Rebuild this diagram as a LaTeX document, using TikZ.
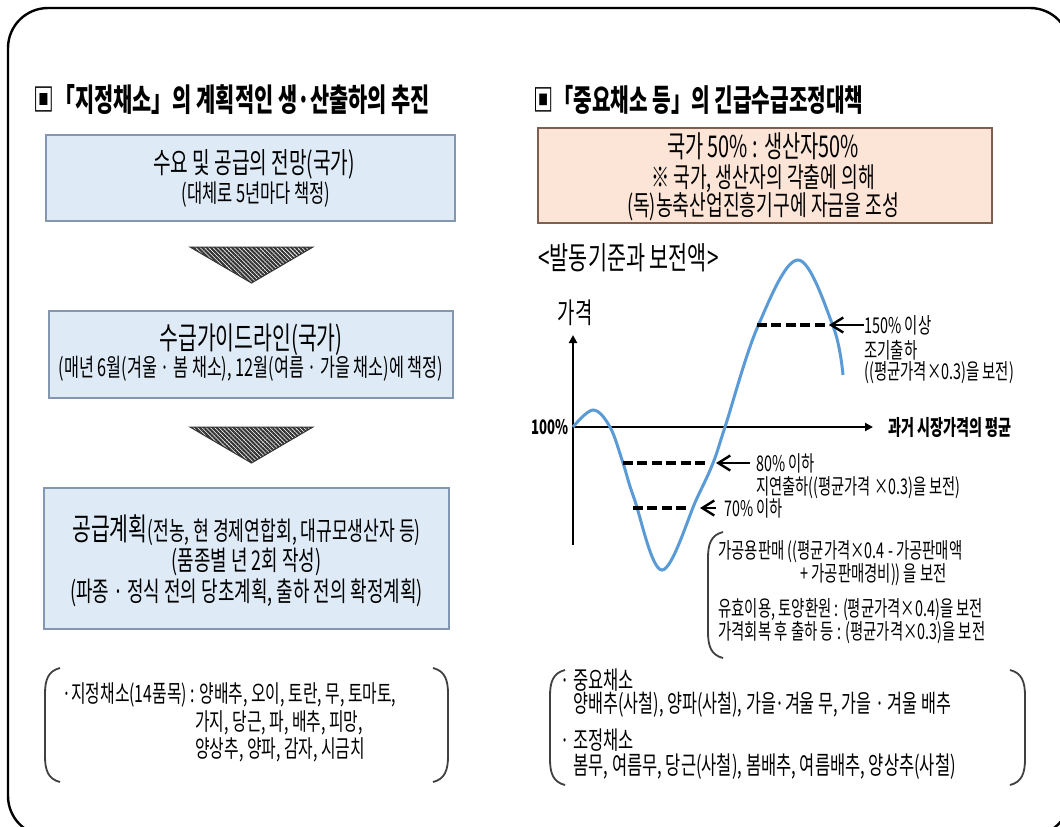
\documentclass[tikz,border=0pt]{standalone}
\usepackage{fontspec}
\setmainfont{Noto Sans CJK KR}[FakeStretch=0.66]
\usetikzlibrary{arrows.meta,patterns.meta}

\definecolor{boxblue}{HTML}{DEEBF7}
\definecolor{edgeblue}{HTML}{8497B0}
\definecolor{boxpeach}{HTML}{FCE4D6}
\definecolor{edgebrown}{HTML}{7F6050}
\definecolor{curveblue}{HTML}{5B9BD5}

\newcommand\fsz[1]{\fontsize{#1}{#1}\selectfont}
\newcommand\leftbrk[3]{\draw[brk] (#1+15,#2) .. controls (#1+3,#2+3) and (#1,#2+12) .. (#1,#2+26) -- (#1,#3-26) .. controls (#1,#3-12) and (#1+3,#3-3) .. (#1+15,#3);}
\newcommand\rightbrk[3]{\draw[brk] (#1-15,#2) .. controls (#1-3,#2+3) and (#1,#2+12) .. (#1,#2+26) -- (#1,#3-26) .. controls (#1,#3-12) and (#1-3,#3-3) .. (#1-15,#3);}

\tikzset{
  bluebox/.style={draw=edgeblue, fill=boxblue, line width=0.9pt, inner sep=0},
  peachbox/.style={draw=edgebrown, fill=boxpeach, line width=0.7pt, inner sep=0},
  lbl/.style={inner sep=0, anchor=west},
  hatch/.style={draw=black!80, line width=0.5pt, pattern={Lines[angle=-45,distance=1.5pt,line width=1.05pt]}, pattern color=black!80},
  brk/.style={line width=0.9pt, black!75},
  level/.style={line width=1.6pt, dash pattern=on 5pt off 2.2pt},
  pointer/.style={line width=1.2pt, -{Straight Barb[length=6pt,width=7.5pt]}},
  axis/.style={line width=1pt, -{Triangle[length=4pt,width=4pt]}}
}

\begin{document}
\begin{tikzpicture}[x=0.5pt,y=-0.5pt]
  \fill[white] (0,0) rectangle (1060,826);
  \clip (0,0) rectangle (1060,826);
  \draw[line width=1.2pt, rounded corners=20pt] (8,8) rectangle (1070,836);

  % left: planned production
  \node[lbl, font=\bfseries\fsz{15.8}] (ltitle) at (33,100) {▣「지정채소」의 계획적인 생·산출하의 추진};

  \node[bluebox, minimum width=204.5pt, minimum height=43pt] (outlook) at (250.5,178) {};
  \node[inner sep=0, font=\fsz{14.5}] (outlook1) at (254,164) {수요 및 공급의 전망(국가)};
  \node[inner sep=0, font=\fsz{12.5}] (outlook2) at (256,195) {(대체로 5년마다 책정)};

  \foreach \ty in {247,427}
    \draw[hatch] (190,\ty) -- (313,\ty) -- (251.5,\ty+36) -- cycle;

  \node[bluebox, minimum width=202pt, minimum height=43.5pt] (guide) at (251,354.5) {};
  \node[inner sep=0, font=\fsz{15.5}] (guide1) at (251,340) {수급가이드라인(국가)};
  \node[inner sep=0, font=\fsz{12.3}] (guide2) at (251,369) {(매년 6월(겨울 · 봄 채소), 12월(여름 · 가을 채소)에 책정)};

  \node[bluebox, minimum width=202.5pt, minimum height=70.5pt] (supply) at (246.5,558.5) {};
  \node[inner sep=0] (supply1) at (246.5,530) {{\fsz{15.5}공급계획}{\fsz{13}(전농, 현 경제연합회, 대규모생산자 등)}};
  \node[inner sep=0, font=\fsz{13.6}] (supply2) at (246.5,562) {(품종별 년 2회 작성)};
  \node[inner sep=0, font=\fsz{13.6}] (supply3) at (246.5,593) {(파종 · 정식 전의 당초계획, 출하 전의 확정계획)};

  \leftbrk{45}{668}{782}
  \rightbrk{448}{668}{782}
  \node[lbl, font=\fsz{12}] (desig1) at (62,695) {·지정채소(14품목) : 양배추, 오이, 토란, 무, 토마토,};
  \node[lbl, font=\fsz{12}] (desig2) at (195,723) {가지, 당근, 파, 배추, 피망,};
  \node[lbl, font=\fsz{12}] (desig3) at (195,750) {양상추, 양파, 감자, 시금치};

  % right: emergency measures
  \node[lbl, font=\bfseries\fsz{15.3}] (rtitle) at (533,100) {▣「중요채소 등」의 긴급수급조정대책};

  \node[peachbox, minimum width=227pt, minimum height=47.5pt] (fund) at (765,175.5) {};
  \node[inner sep=0, font=\fsz{15}] (fund1) at (763,146) {국가 50\% : 생산자50\%};
  \node[inner sep=0, font=\fsz{13.8}] (fund2) at (763,179) {※ 국가, 생산자의 각출에 의해};
  \node[inner sep=0, font=\fsz{13.8}] (fund3) at (763,207) {(독)농축산업진흥기구에 자금을 조성};

  \node[lbl, font=\fsz{15.7}] (gtitle) at (538,258) {<발동기준과 보전액>};

  \coordinate (O) at (573,427);
  \coordinate (ytop) at (573,335);
  \coordinate (ybot) at (573,545);
  \coordinate (xend) at (873,427);
  \draw[axis] (ybot) -- (ytop);
  \draw[axis] (O) -- (xend);
  \node[inner sep=0, font=\fsz{14.3}] (price) at (575,313) {가격};
  \node[inner sep=0, anchor=east, font=\bfseries\fsz{10}] (hundred) at (569,427) {100\%};
  \node[lbl, font=\bfseries\fsz{10.7}] (avg) at (888,427) {과거 시장가격의 평균};

  \draw[curveblue, line width=1.5pt] plot[smooth, tension=0.6] coordinates {
    (573,427) (593,410) (610,427) (623,463) (634,498) (662,570) (697,498)
    (713,463) (725,427) (758,326) (798,260) (833,326) (843,375)};

  % thresholds
  \coordinate (h1) at (757,325);  \coordinate (h2) at (829,325);
  \coordinate (m1) at (623,463);  \coordinate (m2) at (706,463);
  \coordinate (l1) at (633,508);  \coordinate (l2) at (688,508);
  \draw[level] (h1) -- (h2);
  \draw[level] (m1) -- (m2);
  \draw[level] (l1) -- (l2);

  \node[lbl, font=\fsz{10.9}] (over) at (864,325) {150\% 이상};
  \node[lbl, font=\fsz{10.9}] (over2) at (864,350) {조기출하};
  \node[lbl, font=\fsz{10.9}] (over3) at (864,373) {((평균가격×0.3)을 보전)};
  \node[lbl, font=\fsz{10.8}] (under) at (756,463) {80\% 이하};
  \node[lbl, font=\fsz{10.8}] (under2) at (756,488) {지연출하((평균가격 ×0.3)을 보전)};
  \node[lbl, font=\fsz{10.8}] (low) at (724,508) {70\% 이하};
  \draw[pointer] (over.west) -- (h2);
  \draw[pointer] ([xshift=-3pt]under.west) -- ([xshift=5pt]m2);
  \draw[pointer] ([xshift=-4pt]low.west) -- ([xshift=6pt]l2);

  \leftbrk{708}{532}{658}
  \node[lbl, font=\fsz{10.9}] (proc1) at (718,552) {가공용판매 ((평균가격×0.4 - 가공판매액};
  \node[lbl, font=\fsz{10.9}] (proc2) at (800,575) {+ 가공판매경비)) 을 보전};
  \node[lbl, font=\fsz{10.9}] (proc3) at (718,610) {유효이용, 토양환원 : (평균가격×0.4)을 보전};
  \node[lbl, font=\fsz{10.9}] (proc4) at (718,633) {가격회복 후 출하 등 : (평균가격×0.3)을 보전};

  \leftbrk{550}{670}{785}
  \rightbrk{1025}{670}{785}
  \node[lbl, font=\fsz{12.5}] (major1) at (560,680) {· 중요채소};
  \node[lbl, font=\fsz{12.3}] (major2) at (573,705) {양배추(사철), 양파(사철), 가을·겨울 무, 가을 · 겨울 배추};
  \node[lbl, font=\fsz{12.5}] (adj1) at (560,740) {· 조정채소};
  \node[lbl, font=\fsz{12.5}] (adj2) at (573,767) {봄무, 여름무, 당근(사철), 봄배추, 여름배추, 양상추(사철)};
\end{tikzpicture}
\end{document}
